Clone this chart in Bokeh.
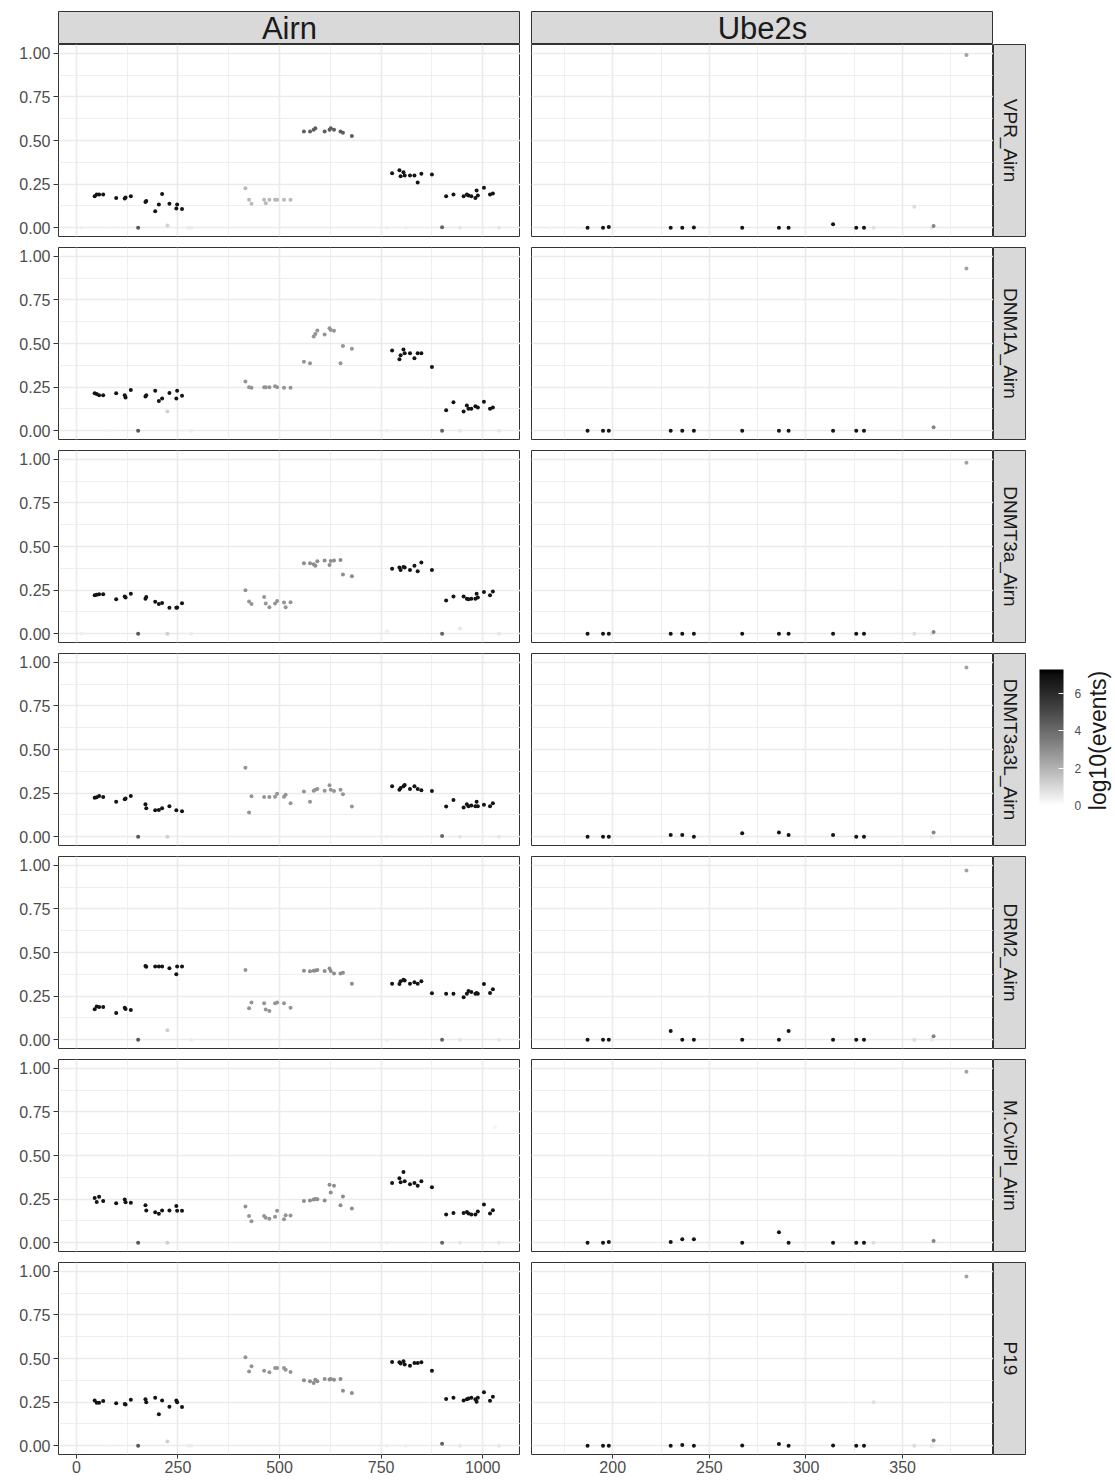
import math
from bokeh.plotting import figure
from bokeh.models import (ColumnDataSource, Range1d, FixedTicker, PrintfTickFormatter,
                          LinearColorMapper, ColorBar, Label, GridBox)
from bokeh.embed import file_html
from bokeh.resources import INLINE

FONT = "Liberation Sans"
N = None

ROW_LABELS = ["VPR_Airn", "DNM1A_Airn", "DNMT3a_Airn", "DNMT3a3L_Airn", "DRM2_Airn", "M.CviPI_Airn", "P19"]
COL_LABELS = ["Airn", "Ube2s"]

# ---------------- Airn sites ----------------
AIRN_POS = [13, 45, 50, 56, 66, 81, 98, 119, 121, 134, 152, 170, 172, 194, 203, 211, 224, 229, 246, 248, 260, 275, 283,
            416, 425, 431, 462, 466, 475, 489, 494, 511, 515, 527,
            560, 575, 584, 588, 593, 611, 623, 626, 634, 650, 656, 678,
            764, 777, 795, 798, 805, 808, 811, 821, 832, 840, 849, 875,
            900, 910, 928, 944, 953, 961, 965, 972, 982, 985, 988, 1003, 1018, 1025, 1040,
            1030]

AIRN_VPR = [0.0, 0.18, 0.19, 0.19, 0.19, 0.0, 0.17, 0.168, 0.173, 0.18, 0.0, 0.147, 0.154, 0.095, 0.133, 0.194, 0.013, 0.137, 0.11, 0.133, 0.107, 0.0, 0.0,
            0.227, 0.16, 0.137, 0.16, 0.14, 0.16, 0.16, 0.16, 0.16, N, 0.16,
            0.552, 0.552, 0.562, 0.57, N, 0.552, 0.562, 0.57, 0.562, 0.552, 0.545, 0.526,
            0.0, 0.312, 0.33, 0.295, 0.318, 0.30, 0.0, 0.30, 0.30, 0.26, 0.31, 0.305,
            0.003, 0.18, 0.19, 0.0, 0.18, 0.19, 0.185, 0.18, 0.17, 0.213, 0.185, 0.23, 0.19, 0.196, 0.0,
            N]
AIRN_DNM1A = [N, 0.215, 0.21, 0.204, 0.204, 0.0, 0.215, 0.204, 0.19, 0.234, 0.0, 0.196, 0.204, 0.229, 0.17, 0.185, 0.11, 0.217, 0.185, 0.229, 0.2, N, 0.0,
              0.282, 0.25, 0.246, 0.25, 0.25, 0.25, 0.255, 0.25, 0.246, N, 0.246,
              0.396, 0.387, 0.54, 0.554, 0.575, 0.552, 0.587, 0.577, 0.573, 0.387, 0.486, 0.47,
              0.0, 0.46, 0.41, 0.432, 0.466, 0.444, N, 0.444, 0.415, 0.444, 0.444, 0.366,
              0.0, 0.118, 0.164, 0.0, 0.11, 0.145, 0.126, 0.126, 0.14, N, 0.133, 0.166, 0.126, 0.133, 0.0,
              N]
AIRN_DNMT3A = [0.0, 0.221, 0.223, 0.227, 0.227, N, 0.198, 0.213, 0.208, 0.23, 0.0, 0.2, 0.21, 0.183, 0.17, 0.177, 0.0, 0.149, 0.149, 0.15, 0.175, N, 0.0,
               0.25, 0.185, 0.17, 0.21, 0.173, 0.152, 0.173, 0.188, 0.179, 0.152, 0.181,
               0.404, 0.404, 0.398, 0.39, 0.415, 0.42, 0.394, 0.417, 0.42, 0.423, 0.339, 0.33,
               0.015, 0.373, 0.379, 0.366, 0.383, 0.379, N, 0.366, 0.389, 0.358, 0.408, 0.366,
               0.0, 0.19, 0.213, 0.03, 0.213, 0.2, 0.198, 0.2, 0.2, 0.23, 0.208, 0.24, 0.22, 0.242, 0.0,
               N]
AIRN_DNMT3A3L = [N, 0.224, 0.226, 0.234, 0.228, N, 0.2, 0.215, 0.219, 0.234, 0.0, 0.186, 0.163, 0.152, 0.154, 0.163, 0.0, 0.175, 0.152, N, 0.146, N, N,
                 0.395, 0.139, 0.232, 0.228, N, 0.228, 0.23, 0.247, 0.23, 0.241, 0.192,
                 0.259, 0.2, 0.264, 0.27, 0.274, 0.264, 0.295, 0.27, 0.262, 0.27, 0.243, 0.173,
                 0.0, 0.29, 0.27, 0.28, 0.29, 0.297, N, 0.274, 0.289, 0.274, 0.266, 0.262,
                 0.004, 0.173, 0.211, 0.0, 0.167, 0.186, 0.175, 0.179, 0.175, 0.2, 0.175, 0.184, 0.175, 0.192, 0.0,
                 N]
AIRN_DRM2 = [N, 0.175, 0.19, 0.188, 0.188, N, 0.154, 0.183, 0.177, 0.171, 0.0, 0.422, 0.418, 0.42, 0.42, 0.42, 0.055, 0.41, 0.376, 0.42, 0.42, N, 0.0,
             0.40, 0.18, 0.213, 0.209, 0.173, 0.165, 0.209, 0.213, 0.209, N, 0.183,
             0.395, 0.392, 0.395, 0.397, 0.40, 0.394, 0.409, 0.394, 0.38, 0.38, 0.384, 0.321,
             0.0, 0.321, 0.32, 0.335, 0.344, 0.34, N, 0.321, 0.329, 0.321, 0.335, 0.266,
             0.0, 0.264, 0.264, 0.0, 0.243, 0.264, 0.28, 0.274, 0.264, 0.268, 0.264, 0.32, 0.268, 0.29, 0.0,
             N]
AIRN_MCVIPI = [N, 0.257, 0.234, 0.263, 0.24, N, 0.227, 0.248, 0.232, 0.23, 0.0, 0.215, 0.185, 0.175, 0.166, 0.185, 0.0, 0.185, 0.21, 0.183, 0.183, N, N,
               0.208, 0.154, 0.124, 0.154, 0.143, 0.137, 0.149, 0.183, 0.135, 0.158, 0.156,
               0.24, 0.242, 0.248, 0.251, 0.25, 0.242, 0.333, 0.288, 0.326, 0.215, 0.265, 0.196,
               0.0, 0.343, 0.37, 0.347, 0.406, 0.352, N, 0.335, 0.343, 0.326, 0.352, 0.318,
               0.0, 0.162, 0.171, 0.0, 0.17, 0.177, 0.168, 0.162, 0.162, N, 0.179, 0.219, 0.168, 0.187, 0.0,
               0.663]
AIRN_P19 = [N, 0.26, 0.247, 0.247, 0.256, 0.0, 0.243, 0.239, 0.237, 0.264, 0.0, 0.266, 0.25, 0.275, 0.18, 0.26, 0.025, 0.224, 0.26, 0.25, 0.222, 0.0, 0.0,
            0.507, 0.425, 0.455, 0.43, N, 0.421, 0.446, 0.446, 0.446, 0.436, 0.423,
            0.376, 0.37, 0.36, 0.378, 0.37, 0.383, 0.38, 0.383, 0.378, 0.383, 0.315, 0.302,
            0.0, 0.48, 0.478, 0.472, 0.484, 0.465, 0.0, 0.459, 0.474, 0.474, 0.478, 0.43,
            0.011, 0.268, 0.275, 0.0, 0.26, 0.266, 0.271, 0.275, 0.266, 0.252, 0.275, 0.307, 0.258, 0.281, 0.0,
            N]
AIRN_ROWS = [AIRN_VPR, AIRN_DNM1A, AIRN_DNMT3A, AIRN_DNMT3A3L, AIRN_DRM2, AIRN_MCVIPI, AIRN_P19]

# log10(events) per site
AIRN_LOG_C1 = [0.4, 6.8, 6.8, 6.8, 6.8, 0.3, 6.8, 6.8, 6.8, 6.8, 4.6, 6.8, 6.8, 6.8, 6.8, 6.8, 1.2, 6.8, 6.8, 6.8, 6.8, 0.5, 0.5]
AIRN_LOG_C4 = [0.4, 6.8, 6.8, 6.8, 6.8, 6.8, 0.4, 6.8, 6.8, 6.8, 6.8, 6.8]
AIRN_LOG_C5 = [4.2, 6.8, 6.8, 0.6, 6.8, 6.8, 6.8, 6.8, 6.8, 6.8, 6.8, 6.8, 6.8, 6.8, 0.6]
AIRN_LOG_EXTRA = [0.3]
AIRN_LOG_C2 = [1.8, 2.8, 2.8, 2.8, 2.8, 2.8, 2.8]   # shade of 2nd cluster per row
AIRN_LOG_C3 = [4.4, 2.8, 3.0, 2.8, 3.0, 3.0, 3.0]   # shade of 3rd cluster per row

# ---------------- Ube2s sites ----------------
UBE_POS = [168, 182, 187, 195, 198, 230, 236, 242, 267, 286, 291, 314, 326, 330, 335, 356, 365, 366, 383, 388]
UBE_LOG = [0.3, 0.3, 6.8, 6.8, 6.8, 6.8, 6.8, 6.8, 6.8, 6.8, 6.8, 6.8, 6.8, 6.8, 0.8, 0.9, 0.6, 3.2, 2.4, 0.3]
UBE_VPR = [0.0, 0.0, 0.0, 0.0, 0.005, 0.0, 0.0, 0.002, 0.0, 0.0, 0.0, 0.02, 0.0, 0.0, 0.0, 0.12, 0.0, 0.01, 0.99, N]
UBE_DNM1A = [N, N, 0.0, 0.0, 0.0, 0.0, 0.0, 0.0, 0.0, 0.0, 0.0, 0.0, 0.0, 0.0, N, N, N, 0.02, 0.93, N]
UBE_DNMT3A = [N, N, 0.0, 0.0, 0.0, 0.0, 0.0, 0.0, 0.0, 0.0, 0.0, 0.0, 0.0, 0.0, N, 0.0, 0.0, 0.01, 0.98, N]
UBE_DNMT3A3L = [N, N, 0.0, 0.0, 0.0, 0.01, 0.01, 0.0, 0.02, 0.025, 0.01, 0.01, 0.0, 0.0, N, N, 0.0, 0.025, 0.97, N]
UBE_DRM2 = [N, N, 0.0, 0.0, 0.0, 0.05, 0.0, 0.0, 0.0, 0.0, 0.05, 0.0, 0.0, 0.0, N, 0.0, 0.0, 0.02, 0.97, N]
UBE_MCVIPI = [N, N, 0.0, 0.0, 0.005, 0.005, 0.02, 0.02, 0.0, 0.06, 0.0, 0.0, 0.0, 0.0, 0.0, N, N, 0.01, 0.98, N]
UBE_P19 = [N, N, 0.0, 0.0, 0.0, 0.0, 0.005, 0.0, 0.002, 0.01, 0.0, 0.002, 0.0, 0.0, 0.25, 0.0, 0.0, 0.03, 0.97, 1.0]
UBE_ROWS = [UBE_VPR, UBE_DNM1A, UBE_DNMT3A, UBE_DNMT3A3L, UBE_DRM2, UBE_MCVIPI, UBE_P19]

# axis ticks
Y_TICKS = [0.0, 0.25, 0.5, 0.75, 1.0]
Y_MINOR = [0.125, 0.375, 0.625, 0.875]
AIRN_TICKS = [0, 250, 500, 750, 1000]
AIRN_MINOR = [125, 375, 625, 875]
UBE_TICKS = [200, 250, 300, 350]
UBE_MINOR = [175, 225, 275, 325, 375]
LEG_TICKS = [0, 2, 4, 6]
LOG_MAX = 7.27

# ---------------- layout constants ----------------
PANEL_W, PANEL_H, GAP = 462, 192, 11
LEFT, MID, BOTTOM, TOP = 58, 11, 26, 11
STRIP_H, RSTRIP_W, LEG_W = 33, 33, 88
TOTAL_H = TOP + STRIP_H + 6 * (PANEL_H + GAP) + PANEL_H + BOTTOM
FRAME_BOTTOM = TOTAL_H - BOTTOM   # legend frame aligns with the panel frames


def lab_grey(t):
    L = 100.0 * (1 - t)
    Y = ((L + 16) / 116) ** 3 if L > 8 else L / 903.3
    c = 12.92 * Y if Y <= 0.0031308 else 1.055 * Y ** (1 / 2.4) - 0.055
    v = max(0, min(255, int(round(c * 255))))
    return "#%02x%02x%02x" % (v, v, v)


PALETTE = [lab_grey(i / 255) for i in range(256)]
mapper = LinearColorMapper(palette=PALETTE, low=0, high=LOG_MAX)


def panel(xr, xticks, xminor, show_y, show_x, left_border):
    h = PANEL_H + (BOTTOM if show_x else GAP)
    p = figure(width=left_border + PANEL_W, height=h,
               x_range=Range1d(*xr), y_range=Range1d(-0.05, 1.05),
               output_backend="svg", toolbar_location=None,
               min_border_left=left_border, min_border_right=0,
               min_border_top=0, min_border_bottom=(BOTTOM if show_x else GAP),
               outline_line_color="#333333", outline_line_width=1,
               background_fill_color="white", border_fill_color="white")
    for ax, ticks, minor in ((p.xaxis, xticks, xminor), (p.yaxis, Y_TICKS, Y_MINOR)):
        ax.ticker = FixedTicker(ticks=ticks, minor_ticks=minor)
        ax.axis_line_color = None
        ax.major_tick_line_color = "#333333"
        ax.major_tick_in = 0
        ax.minor_tick_line_color = None
        ax.major_label_text_color = "#4d4d4d"
        ax.major_label_text_font = FONT
    p.yaxis.formatter = PrintfTickFormatter(format="%.2f")
    p.yaxis.major_tick_out = 5
    p.yaxis.major_label_standoff = 3
    p.yaxis.major_label_text_font_size = "16px"
    p.xaxis.formatter = PrintfTickFormatter(format="%d")
    p.xaxis.major_tick_out = 4
    p.xaxis.major_label_standoff = 2
    p.xaxis.major_label_text_font_size = "16px"
    p.xaxis.visible = show_x
    p.yaxis.visible = show_y
    p.xgrid.ticker = FixedTicker(ticks=xticks, minor_ticks=xminor)
    p.ygrid.ticker = FixedTicker(ticks=Y_TICKS, minor_ticks=Y_MINOR)
    for g in (p.xgrid, p.ygrid):
        g.grid_line_color = "#ebebeb"
        g.grid_line_width = 1.6
        g.minor_grid_line_color = "#ebebeb"
        g.minor_grid_line_width = 0.8
    return p


def add_points(p, xs, ys, logs):
    px, py, pl = [], [], []
    for x, y, l in zip(xs, ys, logs):
        if y is None:
            continue
        px.append(x); py.append(y); pl.append(l)
    src = ColumnDataSource(dict(x=px, y=py, log=pl))
    p.scatter("x", "y", source=src, size=4, line_color=None,
              fill_color={"field": "log", "transform": mapper})


def strip(text, w, h, ml, mb, mt, angle, size):
    s = figure(width=w, height=h, x_range=Range1d(0, 1), y_range=Range1d(0, 1),
               output_backend="svg", toolbar_location=None,
               min_border_left=ml, min_border_right=0, min_border_top=mt, min_border_bottom=mb,
               x_axis_location=None, y_axis_location=None,
               background_fill_color="#d9d9d9", border_fill_color="white",
               outline_line_color="#333333", outline_line_width=1)
    s.grid.visible = False
    s.add_layout(Label(x=0.5, y=0.5, text=text, text_align="center", text_baseline="middle",
                       angle=angle, text_font=FONT, text_font_size=size, text_color="#1a1a1a"))
    return s


children = []
children.append((strip(COL_LABELS[0], LEFT + PANEL_W, TOP + STRIP_H, LEFT, 0, TOP, 0, "31px"), 0, 0))
children.append((strip(COL_LABELS[1], MID + PANEL_W, TOP + STRIP_H, MID, 0, TOP, 0, "31px"), 0, 1))

for r in range(7):
    last = (r == 6)
    pa = panel((-44, 1093), AIRN_TICKS, AIRN_MINOR, True, last, LEFT)
    logs = AIRN_LOG_C1 + [AIRN_LOG_C2[r]] * 11 + [AIRN_LOG_C3[r]] * 12 + AIRN_LOG_C4 + AIRN_LOG_C5 + AIRN_LOG_EXTRA
    add_points(pa, AIRN_POS, AIRN_ROWS[r], logs)
    pu = panel((158, 397), UBE_TICKS, UBE_MINOR, False, last, MID)
    add_points(pu, UBE_POS, UBE_ROWS[r], UBE_LOG)
    rs = strip(ROW_LABELS[r], RSTRIP_W, PANEL_H + (BOTTOM if last else GAP), 0,
               (BOTTOM if last else GAP), 0, -math.pi / 2, "19px")
    children.append((pa, r + 1, 0))
    children.append((pu, r + 1, 1))
    children.append((rs, r + 1, 2))

leg = figure(width=LEG_W, height=TOTAL_H, x_range=Range1d(0, 1), y_range=Range1d(0, 1),
             output_backend="svg", toolbar_location=None, min_border=0,
             x_axis_location=None, y_axis_location=None, outline_line_color=None)
leg.grid.visible = False
cb = ColorBar(color_mapper=mapper, ticker=FixedTicker(ticks=LEG_TICKS),
              width=24, height=136, location=(13, FRAME_BOTTOM - 805), padding=0,
              major_label_text_font=FONT, major_label_text_font_size="12px",
              major_label_text_color="#4d4d4d",
              major_tick_line_color="white", major_tick_in=5, major_tick_out=0,
              minor_tick_line_color=None, bar_line_color=None, border_line_color=None,
              background_fill_color=None, label_standoff=11)
leg.add_layout(cb)
leg.add_layout(Label(x=71, y=FRAME_BOTTOM - 740, x_units="screen", y_units="screen", text="log10(events)",
                     angle=math.pi / 2, text_align="center", text_baseline="middle",
                     text_font=FONT, text_font_size="23px", text_color="#1a1a1a"))
children.append((leg, 0, 3, 8, 1))

grid = GridBox(children=children, spacing=0)
open("out.html", "w").write(file_html(grid, INLINE))
